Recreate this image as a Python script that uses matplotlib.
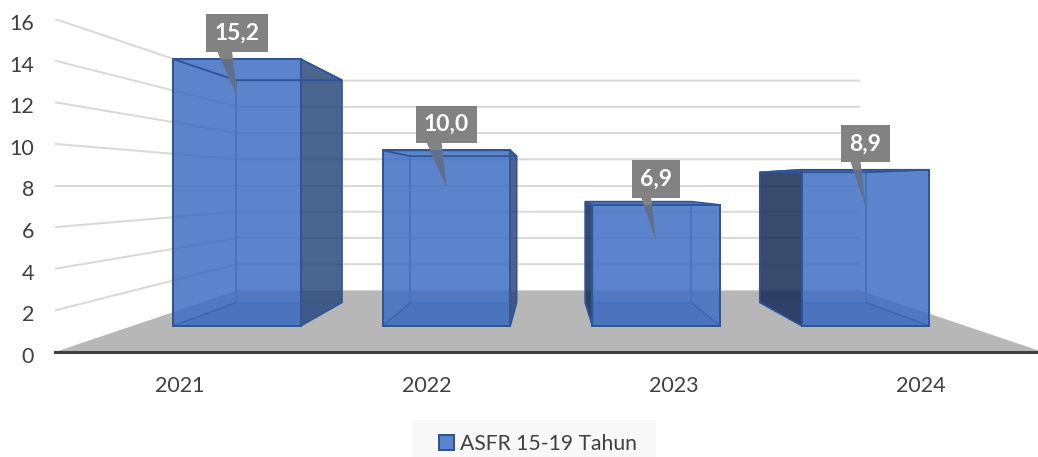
import numpy as np
import matplotlib
matplotlib.use('Agg')
import matplotlib.pyplot as plt
from matplotlib.patches import Polygon, Patch, Rectangle
from matplotlib.transforms import ScaledTranslation

years = ['2021', '2022', '2023', '2024']
asfr_values = [15.2, 10.0, 6.9, 8.9]
value_labels = ['15,2', '10,0', '6,9', '8,9']
y_ticks = [0, 2, 4, 6, 8, 10, 12, 14, 16]

plt.rcParams['font.family'] = ['Lato', 'DejaVu Sans']

W, H = 1038, 457
PX = 0.72  # one pixel in points at dpi 100

# perspective of the excel 3D chart: everything runs to a vanishing point
VANISH_X, VANISH_Y = 2.0, 8.0
SHRINK = 0.37
FRONT_DEPTH, BACK_DEPTH = 0.424, 0.803
BAR_WIDTH = 0.612


def project(x, v, depth):
    s = 1 - SHRINK * depth
    return VANISH_X + (x - VANISH_X) * s, VANISH_Y + (v - VANISH_Y) * s


fig = plt.figure(figsize=(W / 100, H / 100), dpi=100, facecolor='white')
ax = fig.add_axes([55 / W, (H - 352) / H, 988 / W, 333 / H])
ax.set_xlim(0, 4)
ax.set_ylim(0, 16)
px_x, px_y = 247.0, 333 / 16

for side in ['top', 'left', 'right']:
    ax.spines[side].set_visible(False)
ax.spines['bottom'].set_color('#404040')
ax.spines['bottom'].set_linewidth(3.0 * PX)
ax.spines['bottom'].set_zorder(8)

bar_pos = np.arange(4) * 1.006 + 0.502

ax.set_yticks(y_ticks)
ax.set_xticks(np.arange(4) + 0.506)
ax.set_xticklabels(years)
ax.tick_params(axis='y', length=0, pad=21 * PX, labelsize=15.5, labelcolor='#404040')
ax.tick_params(axis='x', length=0, pad=24 * PX, labelsize=15.5, labelcolor='#404040')

# the y labels sit a little under their gridlines
shift_down = ScaledTranslation(0, -3 / 100, fig.dpi_scale_trans)
for lab in ax.get_yticklabels():
    lab.set_transform(lab.get_transform() + shift_down)

# floor
floor = [project(0, 0, 0), project(4, 0, 0), project(4, 0, 1), project(0, 0, 1)]
ax.add_patch(Polygon(floor, closed=True, fc='#b7b7b7', ec='none', zorder=1))

# side wall and back wall gridlines
for v in y_ticks[1:]:
    pts = np.array([project(0, v, 0), project(0, v, 1), project(4, v, 1)])
    ax.plot(pts[:, 0], pts[:, 1], color='#d9d9d9', lw=2.0 * PX, zorder=2,
            solid_capstyle='butt')


def draw_bar(center, value):
    x0, x1 = center - BAR_WIDTH / 2, center + BAR_WIDTH / 2
    f = FRONT_DEPTH
    b = BACK_DEPTH

    # the side that faces the middle of the chart is the one we see
    if center < VANISH_X:
        side_x, side_col = x1, '#2a4a7d'
    else:
        side_x, side_col = x0, '#172a54'
    side = [project(side_x, 0, f), project(side_x, value, f),
            project(side_x, value, b), project(side_x, 0, b)]
    ax.add_patch(Polygon(side, closed=True, fc=side_col, ec='none', alpha=0.85, zorder=3))

    # the top only shows on bars lower than the eye
    top = [project(x0, value, f), project(x1, value, f), project(x1, value, b), project(x0, value, b)]
    if value < VANISH_Y:
        ax.add_patch(Polygon(top, closed=True, fc='#3a5da3', ec='none', alpha=0.85, zorder=3))

    front = [project(x0, 0, f), project(x1, 0, f), project(x1, value, f), project(x0, value, f)]
    front_patch = Polygon(front, closed=True, fc='#3e6ec4', ec='none', alpha=0.85, zorder=4)
    ax.add_patch(front_patch)

    # floor of the bar, a bit darker
    bottom = [project(x0, 0, f), project(x1, 0, f), project(x1, 0, b), project(x0, 0, b)]
    ax.add_patch(Polygon(bottom, closed=True, fc='#2f5597', ec='none', alpha=0.12, zorder=4))

    # inner edges, only seen through the front
    back = [project(x0, 0, b), project(x1, 0, b), project(x1, value, b), project(x0, value, b)]
    back_edge = Polygon(back, closed=True, fc='none', ec='#4472c4', lw=1.8 * PX, zorder=5)
    ax.add_patch(back_edge)
    back_edge.set_clip_path(front_patch)
    for x in [x0, x1]:
        for v in [0, value]:
            a, c = project(x, v, f), project(x, v, b)
            line, = ax.plot([a[0], c[0]], [a[1], c[1]], color='#3b66b5', lw=1.5 * PX, zorder=5)
            line.set_clip_path(front_patch)

    # outer edges
    ax.add_patch(Polygon(side, closed=True, fc='none', ec='#2f5597', lw=1.6 * PX, zorder=6))
    ax.add_patch(Polygon(top, closed=True, fc='none', ec='#2f5597', lw=1.6 * PX, zorder=6))
    ax.add_patch(Polygon(front, closed=True, fc='none', ec='#2f5597', lw=2.0 * PX, zorder=6))
    return front_patch


for i in range(4):
    front_patch = draw_bar(bar_pos[i], asfr_values[i])

    # data label, a grey callout whose tip sits inside the bar
    cx, top_y = project(bar_pos[i], asfr_values[i], FRONT_DEPTH)
    base_left = -20 if len(value_labels[i]) == 4 else -15
    tail = [(cx + base_left / px_x, top_y + 8 / px_y),
            (cx - 5 / px_x, top_y + 8 / px_y),
            (cx, top_y - 37 / px_y)]
    ax.add_patch(Polygon(tail, closed=True, fc='#828282', ec='none', zorder=7))
    tail_over = Polygon(tail, closed=True, fc='#5f6f8e', ec='none', zorder=7)
    ax.add_patch(tail_over)
    tail_over.set_clip_path(front_patch)
    ax.annotate(value_labels[i], xy=(cx, top_y), xytext=(0, 26), textcoords='offset pixels',
                ha='center', va='center', color='white', fontsize=16.5, fontweight='bold',
                bbox=dict(boxstyle='square,pad=0.36', fc='#828282', ec='none'), zorder=9)

# legend strip, runs off the bottom of the picture
fig.add_artist(Rectangle((412 / W, 0), 244 / W, 37 / H, transform=fig.transFigure,
                         fc='#f8f8f8', ec='none', zorder=-1))
handle = Patch(facecolor='#5b84cd', edgecolor='#2f5597', linewidth=2.0 * PX)
leg = ax.legend([handle], ['ASFR 15-19 Tahun'], loc='center', bbox_to_anchor=(538 / W, (H - 444) / H),
                bbox_transform=fig.transFigure, frameon=False, fontsize=15.2, labelcolor='#404040',
                handlelength=0.72, handleheight=0.72, handletextpad=0.3, borderpad=0,
                borderaxespad=0)

fig.savefig('out.png', dpi=100)
